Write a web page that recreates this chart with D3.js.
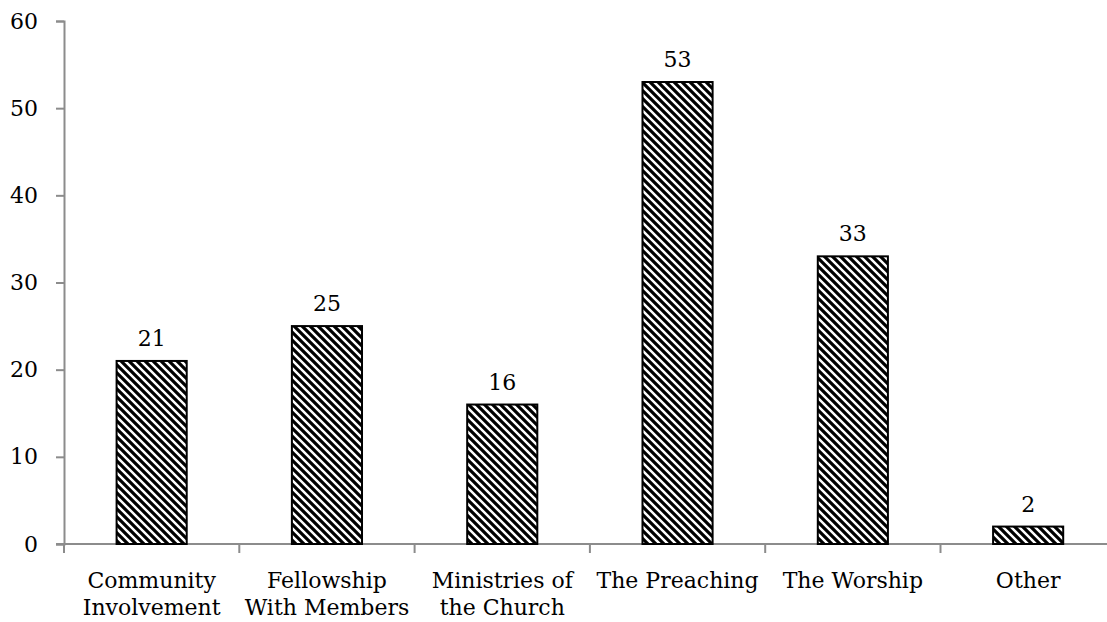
<html>
<head>
<meta charset="utf-8">
<script src="https://d3js.org/d3.v7.min.js"></script>
<style>
body { margin: 0; background: #fff; }
text { font-family: "DejaVu Serif", serif; font-size: 22px; fill: #000; }
</style>
</head>
<body>
<div id="chart"></div>
<script>
var categories = [["Community", "Involvement"], ["Fellowship", "With Members"], ["Ministries of", "the Church"], ["The Preaching"], ["The Worship"], ["Other"]];
var values = [21, 25, 16, 53, 33, 2];
var yTicks = [0, 10, 20, 30, 40, 50, 60];

var width = 1107, height = 622;
var plotLeft = 64, plotRight = 64 + 6 * 175.3, plotTop = 21, plotBottom = 544;

var svg = d3.select("#chart").append("svg")
	.attr("width", width)
	.attr("height", height);

var defs = svg.append("defs");
var pat = defs.append("pattern")
	.attr("id", "hatch")
	.attr("patternUnits", "userSpaceOnUse")
	.attr("width", 8).attr("height", 8);
pat.append("rect").attr("width", 8).attr("height", 8).attr("fill", "#fff");
pat.append("path")
	.attr("d", "M-2,-2L10,10M-2,6L2,10M6,-2L10,2")
	.attr("stroke", "#000")
	.attr("stroke-width", 3.2);

var keys = d3.range(categories.length);

var x = d3.scaleBand()
	.domain(keys)
	.range([plotLeft, plotRight])
	.paddingInner(0.6)
	.paddingOuter(0.3);

var y = d3.scaleLinear()
	.domain([0, 60])
	.range([plotBottom, plotTop]);

// y axis
var yAxis = svg.append("g")
	.attr("transform", `translate(${plotLeft},0)`)
	.call(d3.axisLeft(y).tickValues(yTicks).tickSize(8).tickPadding(18));
yAxis.selectAll("path, line").attr("stroke", "#8c8c8c").attr("stroke-width", 2);
yAxis.selectAll("text").style("font-family", "'DejaVu Serif', serif").style("font-size", "22px").attr("fill", "#000");

// x axis line + ticks at category boundaries
var xg = svg.append("g");
xg.append("line")
	.attr("x1", plotLeft - 8).attr("x2", width)
	.attr("y1", y(0)).attr("y2", y(0))
	.attr("stroke", "#8c8c8c").attr("stroke-width", 2);
var step = x.step();
xg.selectAll("line.tick")
	.data(d3.range(categories.length + 1))
	.enter().append("line")
	.attr("class", "tick")
	.attr("x1", d => plotLeft + d * step)
	.attr("x2", d => plotLeft + d * step)
	.attr("y1", y(0)).attr("y2", y(0) + 9)
	.attr("stroke", "#8c8c8c").attr("stroke-width", 2);

// bars
svg.selectAll("rect.bar")
	.data(values)
	.enter().append("rect")
	.attr("class", "bar")
	.attr("x", (d, i) => x(i))
	.attr("y", d => y(d))
	.attr("width", x.bandwidth())
	.attr("height", d => y(0) - y(d))
	.attr("fill", "url(#hatch)")
	.attr("stroke", "#000")
	.attr("stroke-width", 2);

// value labels
svg.selectAll("text.val")
	.data(values)
	.enter().append("text")
	.attr("class", "val")
	.attr("text-anchor", "middle")
	.attr("x", (d, i) => x(i) + x.bandwidth() / 2)
	.attr("y", d => y(d) - 15)
	.text(d => d);

// category labels
var cl = svg.selectAll("text.cat")
	.data(categories)
	.enter().append("text")
	.attr("class", "cat")
	.attr("text-anchor", "middle")
	.attr("x", (d, i) => x(i) + x.bandwidth() / 2)
	.attr("y", 588);
cl.selectAll("tspan")
	.data(d => d)
	.enter().append("tspan")
	.attr("x", function() { return this.parentNode.getAttribute("x"); })
	.attr("dy", (d, i) => i ? 27 : 0)
	.text(d => d);
</script>
</body>
</html>
